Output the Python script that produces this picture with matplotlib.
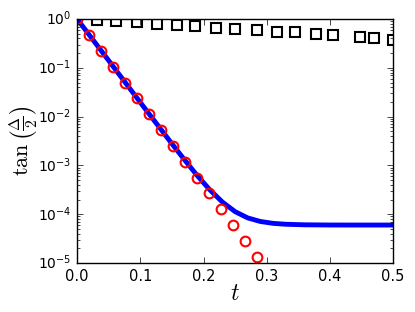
import matplotlib
matplotlib.use("Agg")
import matplotlib.pyplot as plt

plt.style.use("classic")
plt.rcParams["mathtext.fontset"] = "cm"
plt.rcParams["xtick.labelsize"] = 10.5
plt.rcParams["ytick.labelsize"] = 10

# blue curve
t_line = [0.0, 0.05, 0.10, 0.15, 0.17, 0.19, 0.21, 0.23, 0.25, 0.27, 0.29,
          0.31, 0.33, 0.36, 0.40, 0.45, 0.50]
y_line = [1.0, 0.14, 0.0195, 0.00278, 0.0013, 6.2e-4, 3.16e-4, 1.77e-4,
          1.13e-4, 8.4e-5, 7.1e-5, 6.5e-5, 6.23e-5, 6.07e-5, 6.01e-5,
          6.0e-5, 6.0e-5]

# red circles
t_circ = [0.0, 0.019, 0.038, 0.057, 0.076, 0.095, 0.114, 0.133, 0.152,
          0.171, 0.190, 0.209, 0.228, 0.247, 0.266, 0.285]
y_circ = [1.0, 0.473, 0.224, 0.106, 0.050, 0.0237, 0.0112, 0.0053, 0.0025,
          0.00119, 5.6e-4, 2.66e-4, 1.26e-4, 5.9e-5, 2.8e-5, 1.3e-5]

# black squares
t_sq = [0.031, 0.062, 0.094, 0.126, 0.158, 0.187, 0.220, 0.250, 0.284,
        0.317, 0.345, 0.378, 0.405, 0.448, 0.470, 0.500]
y_sq = [0.95, 0.91, 0.855, 0.80, 0.75, 0.73, 0.65, 0.62, 0.585, 0.55,
        0.53, 0.49, 0.47, 0.43, 0.41, 0.38]

fig = plt.figure(figsize=(4.15, 3.12), dpi=100)
ax = fig.add_axes([0.186, 0.157, 0.761, 0.782])

ax.plot(t_line, y_line, "b-", lw=3.5)
ax.plot(t_circ, y_circ, "o", mfc="none", mec="r", mew=1.5, ms=7)
ax.plot(t_sq, y_sq, "s", mfc="none", mec="k", mew=1.5, ms=7)

ax.set_yscale("log")
ax.set_xlim(0, 0.5)
ax.set_ylim(1e-5, 1)
ax.set_xticks([0.0, 0.1, 0.2, 0.3, 0.4, 0.5])
ax.set_xlabel(r"$t$", fontsize=17, labelpad=-2)
ax.set_ylabel(r"$\tan\left(\frac{\Delta}{2}\right)$", fontsize=16)
ax.yaxis.set_label_coords(-0.117, 0.5)

fig.savefig("out.png", dpi=100, facecolor="white")
